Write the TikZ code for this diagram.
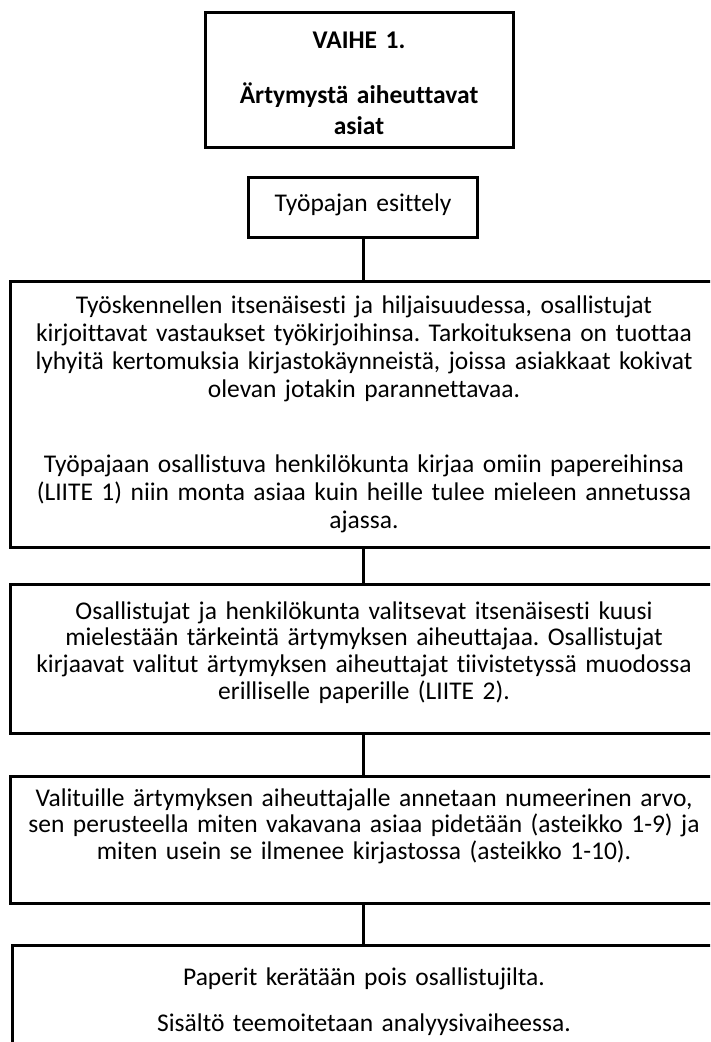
\documentclass[tikz,border=0pt]{standalone}
\usepackage{fontspec}
\setmainfont{Carlito}[Ligatures={NoCommon}]
\frenchspacing
\begin{document}
\begin{tikzpicture}[x=1pt,y=-1pt,
  box/.style={draw=black, line width=3pt, fill=white, rectangle, inner sep=0pt},
  conn/.style={draw=black, line width=3pt},
  body/.style={anchor=base, inner sep=0pt, align=center, text width=700pt,
    font=\fontsize{25.5}{26.8}\selectfont},
  head/.style={anchor=base, inner sep=0pt, align=center, text width=300pt,
    font=\fontsize{25.5}{27}\selectfont\bfseries}]
  % page area
  \fill[white] (0,0) rectangle (710,1042);
  \clip (0,0) rectangle (710,1042);

  % boxes (centre, width, height)
  \node[box, minimum width=308pt, minimum height=135pt] (b1) at (359,79.5) {};
  \node[box, minimum width=229pt, minimum height=60pt]  (b2) at (363,207) {};
  \node[box, minimum width=706pt, minimum height=266pt] (b3) at (363,414) {};
  \node[box, minimum width=706pt, minimum height=149pt] (b4) at (363,658.5) {};
  \node[box, minimum width=706pt, minimum height=127pt] (b5) at (363,839.5) {};
  \node[box, minimum width=704pt, minimum height=135pt] (b6) at (364,1012.5) {};

  % connectors
  \draw[conn] (b2.south) -- (b2.south |- b3.north);
  \draw[conn] (b3.south) -- (b3.south |- b4.north);
  \draw[conn] (b4.south) -- (b4.south |- b5.north);
  \draw[conn] (b5.south) -- (b5.south |- b6.north);

  % texts
  \node[head] (t1) at (359,48) {VAIHE 1.\\[28pt]Ärtymystä aiheuttavat\\[4pt]asiat};
  \node[body, text width=220pt] (t2) at (363,211) {Työpajan esittely};
  \node[body, font=\fontsize{25.5}{28}\selectfont] (t3) at (364,313)
    {Työskennellen itsenäisesti ja hiljaisuudessa, osallistujat\\
    kirjoittavat vastaukset työkirjoihinsa. Tarkoituksena on tuottaa\\
    lyhyitä kertomuksia kirjastokäynneistä, joissa asiakkaat kokivat\\
    olevan jotakin parannettavaa.\\[47pt]
    Työpajaan osallistuva henkilökunta kirjaa omiin papereihinsa\\
    (LIITE 1) niin monta asiaa kuin heille tulee mieleen annetussa\\
    ajassa.};
  \node[body] (t4) at (364,619) {Osallistujat ja henkilökunta valitsevat itsenäisesti kuusi\\
    mielestään tärkeintä ärtymyksen aiheuttajaa. Osallistujat\\
    kirjaavat valitut ärtymyksen aiheuttajat tiivistetyssä muodossa\\
    erilliselle paperille (LIITE 2).};
  \node[body] (t5) at (364,806) {Valituille ärtymyksen aiheuttajalle annetaan numeerinen arvo,\\
    sen perusteella miten vakavana asiaa pidetään (asteikko 1-9) ja\\
    miten usein se ilmenee kirjastossa (asteikko 1-10).};
  \node[body] (t6) at (364,985) {Paperit kerätään pois osallistujilta.\\[20pt]
    Sisältö teemoitetaan analyysivaiheessa.};
\end{tikzpicture}
\end{document}
